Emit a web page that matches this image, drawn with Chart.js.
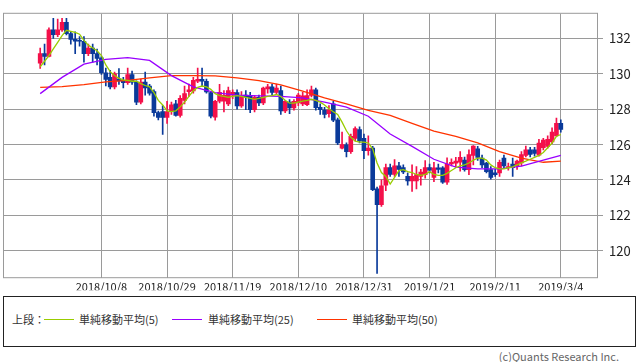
<!DOCTYPE html>
<html>
<head>
<meta charset="utf-8">
<script src="https://cdn.jsdelivr.net/npm/chart.js@4.4.0/dist/chart.umd.min.js"></script>
<style>
  body { margin: 0; background: #fff; width: 638px; height: 362px; position: relative; overflow: hidden;
         font-family: "Noto Sans CJK JP", "Noto Sans", sans-serif; }
  #wrap { position: absolute; left: 0; top: 0; width: 638px; height: 292px; }
  #legend { position: absolute; left: 3px; top: 296px; width: 631px; height: 49px; border: 1px solid #222;
            font-size: 11px; color: #333; }
  #legend .t { position: absolute; top: 14px; white-space: nowrap; }
  #legend .l { position: absolute; top: 22px; height: 0; width: 30px; border-top: 1px solid; }
  #copy { position: absolute; right: 19px; top: 348px; font-size: 11px; color: #666; }
</style>
</head>
<body>
<div id="wrap"><canvas id="myChart" width="638" height="292"></canvas></div>
<div id="legend">
  <div class="t" style="left:8px">上段：</div>
  <div class="l" style="left:40px;border-color:#99cc00"></div><div class="t" style="left:75px">単純移動平均(5)</div>
  <div class="l" style="left:168px;border-color:#9900ff"></div><div class="t" style="left:204px">単純移動平均(25)</div>
  <div class="l" style="left:313px;border-color:#ff3300"></div><div class="t" style="left:348px">単純移動平均(50)</div>
</div>
<div id="copy">(c)Quants Research Inc.</div>
<script>
// EUR/JPY daily, 2018/9/18 - 2019/3/4 (weekdays)
const opens = [130.60,131.14,130.98,132.48,132.22,132.48,132.91,132.27,131.95,131.90,
  131.84,131.14,131.46,131.14,130.90,130.06,129.80,129.26,129.72,129.60,
  129.50,129.95,129.53,128.40,129.53,129.30,128.99,127.81,127.86,127.54,
  127.86,128.30,127.65,128.50,128.99,129.04,129.58,129.69,129.58,128.94,
  127.55,128.45,128.45,128.30,128.80,128.94,128.18,128.80,128.77,127.97,
  128.67,128.35,129.15,129.26,128.95,129.05,127.90,128.40,128.07,128.35,
  128.30,128.25,128.78,129.10,128.10,127.95,127.75,128.30,127.40,125.80,
  125.98,125.60,126.35,126.85,126.35,125.65,125.80,123.50,122.60,123.70,
  124.70,124.31,124.80,124.70,124.20,123.94,123.94,124.20,124.30,124.70,
  124.15,124.69,124.69,123.88,124.90,124.95,125.00,125.12,124.58,125.39,
  125.76,125.23,124.96,124.58,124.40,124.40,125.23,124.70,124.90,124.80,
  124.96,125.39,125.71,125.71,125.40,125.82,125.90,126.15,126.50,127.20];
const highs = [131.46,131.68,132.60,133.13,133.10,133.13,133.13,132.40,132.38,132.10,
  132.10,131.68,131.68,131.40,131.00,130.33,130.20,130.10,130.30,129.80,
  130.33,130.15,129.60,129.70,130.10,129.40,129.10,127.90,128.20,128.45,
  128.40,128.50,128.77,129.30,129.42,129.80,130.33,130.33,129.70,129.00,
  128.50,129.40,129.05,129.25,129.10,129.10,129.00,129.05,128.95,128.77,
  128.80,129.25,129.40,129.42,129.42,129.30,128.50,128.55,128.55,128.90,
  128.95,129.10,129.30,129.20,128.30,128.10,128.20,128.45,127.50,126.70,
  126.10,126.60,127.00,127.00,126.60,126.50,125.90,123.60,124.00,124.90,
  124.90,125.15,125.00,124.85,124.40,124.85,124.75,124.60,125.10,124.90,
  125.00,124.90,124.75,125.25,125.20,125.28,125.60,125.30,125.70,125.95,
  125.90,125.40,125.00,124.75,124.60,125.12,125.40,124.95,125.23,125.12,
  125.60,125.92,125.85,125.85,126.30,126.35,126.50,126.95,127.50,127.40];
const lows = [130.30,130.50,130.95,132.00,132.10,132.40,132.20,131.68,131.14,131.57,
  130.66,131.03,130.66,130.50,129.97,129.31,129.15,129.15,129.40,129.20,
  129.40,129.40,128.25,128.30,128.80,128.80,127.60,127.40,126.57,127.20,
  127.70,127.60,127.55,128.30,128.72,128.90,129.50,129.30,128.90,127.50,
  127.38,128.35,127.85,128.20,128.60,128.00,128.10,127.97,127.80,127.85,
  128.20,128.25,128.90,128.80,128.85,127.70,127.80,127.75,127.95,128.20,
  128.20,128.20,128.70,127.95,127.70,127.50,127.55,127.30,126.00,125.75,
  125.30,125.50,126.20,126.10,125.20,125.40,123.40,118.72,122.50,123.40,
  124.20,124.20,124.20,124.35,123.70,123.35,123.50,123.70,124.10,124.40,
  123.90,124.40,123.80,123.75,124.80,124.70,124.50,124.50,124.30,124.85,
  125.10,124.70,124.40,124.05,124.20,124.20,124.70,124.55,124.20,124.60,
  124.80,125.30,125.30,125.35,125.35,125.70,125.80,126.05,126.45,126.70];
const closes = [131.14,130.98,132.48,132.22,132.48,132.91,132.27,131.95,131.84,131.84,
  131.14,131.46,131.14,130.87,130.06,129.69,129.26,130.00,129.60,129.50,
  129.95,129.53,128.40,129.53,129.20,128.90,127.81,127.54,127.54,127.86,
  128.24,127.65,128.61,128.88,129.10,129.63,129.69,129.58,128.98,127.60,
  128.45,128.95,128.78,129.05,128.95,128.18,128.72,128.70,127.97,128.67,
  128.35,129.20,129.26,128.95,129.20,127.90,128.45,128.07,128.45,128.80,
  128.75,128.77,129.10,128.08,127.97,127.70,127.97,127.38,126.10,126.00,
  125.60,126.46,126.90,126.20,125.65,125.80,123.45,122.60,123.67,124.70,
  124.31,124.80,124.60,124.45,123.94,124.20,124.31,124.45,124.70,124.55,
  124.69,124.60,123.88,124.90,125.00,125.06,125.28,124.58,125.44,125.92,
  125.28,124.85,124.47,124.15,124.30,125.00,124.80,124.75,124.70,125.06,
  125.44,125.71,125.45,125.50,126.09,126.25,126.30,126.70,127.20,126.85];

// moving averages
const sma5 = [130.39,130.71,131.03,131.41,131.78,132.16,132.46,132.40,132.34,132.24,
  131.89,131.62,131.46,131.30,131.03,130.50,130.12,129.90,129.74,129.66,
  129.63,129.58,129.58,129.45,129.34,129.26,128.94,128.50,128.24,127.91,
  127.86,127.91,128.13,128.40,128.72,129.04,129.23,129.31,129.26,129.12,
  128.88,128.77,128.72,128.67,128.72,128.77,128.72,128.67,128.61,128.56,
  128.61,128.67,128.72,128.77,128.83,128.72,128.50,128.34,128.34,128.40,
  128.45,128.50,128.56,128.50,128.40,128.24,128.02,127.86,127.70,127.27,
  126.78,126.41,126.19,126.14,126.14,126.09,125.76,124.96,124.42,124.20,
  123.77,124.15,124.53,124.58,124.47,124.42,124.31,124.26,124.31,124.47,
  124.31,124.26,124.26,124.37,124.53,124.69,124.80,124.85,124.96,125.12,
  125.23,125.23,125.12,124.85,124.69,124.63,124.63,124.69,124.74,124.85,
  124.96,125.06,125.17,125.28,125.39,125.55,125.82,126.09,126.46,126.57];
const maIdx = [0,5,10,15,20,25,30,35,40,45,50,55,60,65,70,75,80,85,90,95,100,105,110,115,119];
const sma25 = [128.88,129.80,130.55,130.82,130.92,130.76,129.90,129.26,128.94,128.80,128.75,128.72,
  128.64,128.40,128.12,127.60,126.60,125.90,125.17,124.72,124.63,124.63,124.78,125.12,125.39];
const sma50 = [129.23,129.28,129.39,129.55,129.63,129.77,129.90,129.90,129.88,129.77,129.61,129.37,
  129.02,128.64,128.30,127.94,127.65,127.20,126.76,126.46,126.09,125.60,125.23,125.00,125.06];

const xTickLabels = ["2018/10/8","2018/10/29","2018/11/19","2018/12/10","2018/12/31","2019/1/21","2019/2/11","2019/3/4"];
const yTicks = [120,122,124,126,128,130,132];

// trading days
const dates = [];
for (let d = new Date(2018, 8, 18); d <= new Date(2019, 2, 4); d.setDate(d.getDate() + 1)) {
    if (d.getDay() % 6) dates.push(`${d.getFullYear()}/${d.getMonth() + 1}/${d.getDate()}`);
}

const PAD = 8;
const blank = Array(PAD).fill("");
const labels = [...blank, ...dates, ...blank];
const nulls = () => Array(labels.length).fill(null);

const wicks = nulls(), bodies = nulls(), ma5 = nulls(), ma25 = nulls(), ma50 = nulls();
dates.forEach((d, i) => {
    wicks[i + PAD] = [lows[i], highs[i]];
    bodies[i + PAD] = [opens[i], closes[i]];
    ma5[i + PAD] = sma5[i];
});
maIdx.forEach((idx, k) => {
    ma25[idx + PAD] = sma25[k];
    ma50[idx + PAD] = sma50[k];
});

const UP = "#f4104a", DOWN = "#0a3a9a", GRID = "#9a9a9a";
const candleColor = (ctx) => {
    const i = ctx.dataIndex - PAD;
    if (i < 0 || i >= dates.length) return "rgba(0,0,0,0)";
    return closes[i] >= opens[i] ? UP : DOWN;
};
const gridIdx = new Set(xTickLabels.map(l => labels.indexOf(l)));

// frame around the plot
const frame = {
    id: "frame",
    beforeDatasetsDraw(chart) {
        const {ctx, chartArea: a} = chart;
        ctx.save();
        ctx.strokeStyle = GRID;
        ctx.lineWidth = 1;
        ctx.strokeRect(a.left + 0.5, a.top - 0.5, a.right - a.left - 1, a.bottom - a.top);
        ctx.restore();
    }
};

const ctx = document.getElementById("myChart");
const myChart = new Chart(ctx, {
    type: "bar",
    data: {
        labels,
        datasets: [
            { type: "line", data: ma5, borderColor: "#99cc00", borderWidth: 1.3, pointRadius: 0, tension: 0, spanGaps: true, order: 0 },
            { type: "line", data: ma25, borderColor: "#9900ff", borderWidth: 1.3, pointRadius: 0, tension: 0, spanGaps: true, order: 0 },
            { type: "line", data: ma50, borderColor: "#ff3300", borderWidth: 1.3, pointRadius: 0, tension: 0, spanGaps: true, order: 0 },
            { data: bodies, backgroundColor: candleColor, barThickness: 4, grouped: false, minBarLength: 1, order: 1 },
            { data: wicks, backgroundColor: candleColor, barThickness: 1, grouped: false, order: 2 },
        ],
    },
    options: {
        responsive: false,
        animation: false,
        events: [],
        layout: { padding: { left: 3, top: 1, right: 0, bottom: 0 } },
        plugins: { legend: { display: false }, tooltip: { enabled: false } },
        scales: {
            x: {
                offset: true,
                afterFit: (s) => { s.height = 12; },
                grid: {
                    offset: false,
                    drawTicks: false,
                    color: (c) => gridIdx.has(c.index) ? GRID : "rgba(0,0,0,0)",
                },
                border: { display: false },
                ticks: {
                    autoSkip: false, maxRotation: 0, minRotation: 0, padding: 2,
                    color: "#222",
                    font: { family: "Noto Sans CJK JP", size: 11 },
                    callback: function (val) {
                        const l = this.getLabelForValue(val);
                        return xTickLabels.includes(l) ? l : "";
                    },
                },
            },
            y: {
                position: "right",
                min: 118.446,
                max: 133.393,
                afterFit: (s) => { s.width = 40; },
                afterBuildTicks: (s) => { s.ticks = yTicks.map(v => ({ value: v })); },
                grid: { color: GRID, tickLength: 5 },
                border: { display: false },
                ticks: {
                    padding: 6,
                    color: "#222",
                    font: { family: "Noto Sans CJK JP", size: 13 },
                },
            },
        },
    },
    plugins: [frame],
});
</script>
</body>
</html>
